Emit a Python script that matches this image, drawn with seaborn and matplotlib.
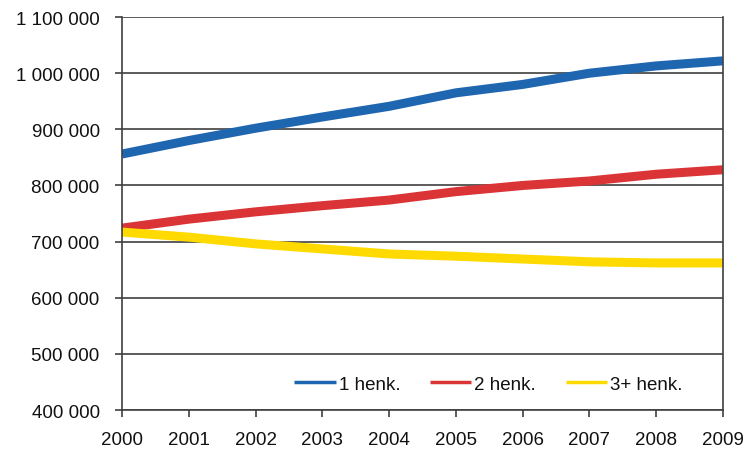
import matplotlib
matplotlib.use("Agg")
import matplotlib.pyplot as plt
import matplotlib.ticker as mticker
import seaborn as sns
import pandas as pd

years = [2000, 2001, 2002, 2003, 2004, 2005, 2006, 2007, 2008, 2009]
one_person = [856000, 880000, 902000, 922000, 941000, 965000, 980000, 1000000, 1013000, 1022000]
two_person = [724000, 740000, 753000, 764000, 774000, 789000, 800000, 808000, 820000, 828000]
three_plus = [717000, 708000, 696000, 687000, 678000, 674000, 669000, 664000, 662000, 662000]
series_names = ["1 henk.", "2 henk.", "3+ henk."]
colors = ["#1F66B1", "#DA3436", "#FFDA00"]
y_ticks = [400000, 500000, 600000, 700000, 800000, 900000, 1000000, 1100000]

df = pd.concat([
    pd.DataFrame({"Vuosi": years, "Kotitaloudet": vals, "Koko": name})
    for name, vals in zip(series_names, [one_person, two_person, three_plus])
])

sns.set_theme(style="white")
plt.rcParams["font.family"] = ["Liberation Sans", "DejaVu Sans"]

fig = plt.figure(figsize=(7.46, 4.52), dpi=100)
ax = fig.add_axes([0.1635, 0.0907, 0.8055, 0.8693])

sns.lineplot(data=df, x="Vuosi", y="Kotitaloudet", hue="Koko",
             palette=dict(zip(series_names, colors)), linewidth=6.5,
             ax=ax, legend=True, solid_capstyle="butt")

ax.set_xlim(2000, 2009)
ax.set_ylim(400000, 1100000)
ax.set_xticks(years)
ax.set_yticks(y_ticks)
ax.yaxis.set_major_formatter(mticker.FuncFormatter(lambda v, p: f"{int(v):,}".replace(",", " ")))
ax.set_xlabel("")
ax.set_ylabel("")
ax.grid(axis="y", color="#404040", linewidth=1.2)
ax.set_axisbelow(True)
for s in ["left", "bottom", "right"]:
    ax.spines[s].set_visible(True)
    ax.spines[s].set_color("#404040")
    ax.spines[s].set_linewidth(1.2)
ax.spines["top"].set_visible(False)
ax.tick_params(axis="both", which="major", direction="out", length=5, width=1.2,
               color="#404040", labelsize=13.5, labelcolor="#111111",
               left=True, bottom=True)
ax.tick_params(axis="y", pad=11)
ax.tick_params(axis="x", pad=10)

leg = ax.legend(loc="center", bbox_to_anchor=(0.61, 0.066), ncol=3, frameon=False,
                fontsize=13.5, handlelength=2.2, columnspacing=1.6, handletextpad=0.15,
                labelcolor="#111111")
for h in leg.get_lines():
    h.set_linewidth(2.5)

fig.savefig("out.png", dpi=100)
